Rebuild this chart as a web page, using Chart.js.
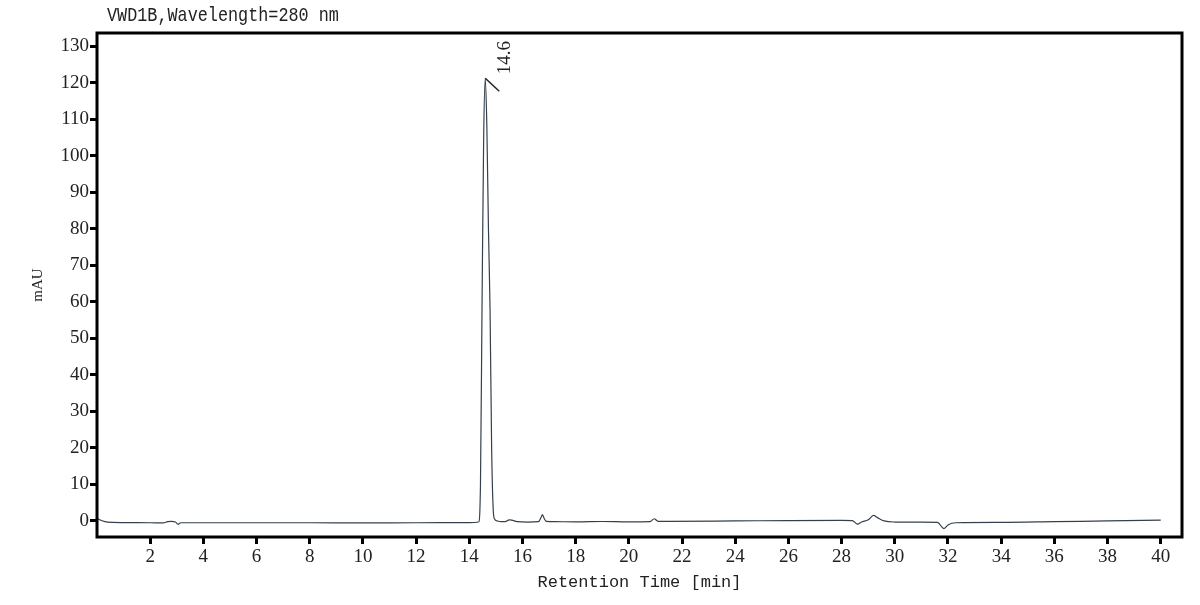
<!DOCTYPE html>
<html>
<head>
<meta charset="utf-8">
<script src="https://cdn.jsdelivr.net/npm/chart.js@4"></script>
<style>
  html, body { margin: 0; padding: 0; background: #ffffff; }
  #wrap { width: 1200px; height: 605px; position: relative; }
</style>
</head>
<body>
<div id="wrap"><canvas id="c" width="1200" height="605"></canvas></div>
<script>
// ---- data ----
const retentionTimes = [
  0.0, 0.1, 0.3, 0.6, 1.0, 2.0, 2.5, 2.65, 2.8, 2.95, 3.05, 3.15, 3.5, 5.0, 8.0, 10.0, 12.0,
  14.0, 14.35, 14.42, 14.48, 14.54, 14.6, 14.66, 14.72, 14.78, 14.84, 14.9, 14.95, 15.05, 15.2,
  15.35, 15.5, 15.6, 15.8, 16.2, 16.6, 16.7, 16.75, 16.82, 16.9, 17.2, 18.0, 19.0, 20.0,
  20.8, 20.95, 21.1, 21.5, 24.0, 26.0, 28.0, 28.4, 28.6, 28.75, 29.0, 29.2, 29.35, 29.6,
  30.0, 31.0, 31.6, 31.85, 32.0, 32.3, 34.0, 36.0, 38.0, 40.0
];
const absorbance = [
  0.8, 0.3, -0.2, -0.4, -0.45, -0.5, -0.55, -0.2, -0.1, -0.3, -0.9, -0.5, -0.5, -0.5, -0.5, -0.55, -0.5,
  -0.45, -0.3, 10.0, 60.0, 105.0, 121.2, 108.0, 80.0, 58.0, 20.0, 3.0, 0.5, 0.0, -0.2,
  -0.2, 0.3, 0.2, -0.2, -0.3, -0.2, 1.0, 1.7, 0.6, -0.1, -0.2, -0.25, -0.15, -0.25,
  -0.2, 0.6, -0.1, -0.1, 0.0, 0.1, 0.15, 0.1, -0.9, -0.3, 0.3, 1.5, 0.9, 0.0,
  -0.3, -0.35, -0.4, -2.1, -1.1, -0.5, -0.4, -0.2, 0.0, 0.2
];
const xTickValues = [2, 4, 6, 8, 10, 12, 14, 16, 18, 20, 22, 24, 26, 28, 30, 32, 34, 36, 38, 40];
const yTickValues = [0, 10, 20, 30, 40, 50, 60, 70, 80, 90, 100, 110, 120, 130];
const peakTimes = [14.6];
const peakHeights = [121.2];
const peakLabels = ["14.6"];
const chartTitle = "VWD1B,Wavelength=280 nm";
const xTitle = "Retention Time [min]";
const yTitle = "mAU";

const points = retentionTimes.map((t, i) => ({ x: t, y: absorbance[i] }));

const framePlugin = {
  id: 'frameAndLabels',
  afterDraw(chart) {
    const ctx = chart.ctx;
    const a = chart.chartArea;
    const xs = chart.scales.x, ys = chart.scales.y;
    ctx.save();
    // frame
    ctx.strokeStyle = '#000000';
    ctx.lineWidth = 3;
    ctx.strokeRect(a.left, a.top, a.right - a.left, a.bottom - a.top);
    // title (condensed monospace)
    ctx.save();
    ctx.translate(107, 21);
    ctx.scale(0.8, 1);
    ctx.fillStyle = '#222222';
    ctx.font = '21px "Liberation Mono", monospace';
    ctx.textBaseline = 'alphabetic';
    ctx.textAlign = 'left';
    ctx.fillText(chartTitle, 0, 0);
    ctx.restore();
    // peak labels
    peakTimes.forEach((t, i) => {
      const px = xs.getPixelForValue(t);
      const py = ys.getPixelForValue(peakHeights[i]);
      ctx.strokeStyle = '#222222';
      ctx.lineWidth = 1.5;
      ctx.beginPath();
      ctx.moveTo(px, py);
      ctx.lineTo(px + 14, py + 13);
      ctx.stroke();
      ctx.save();
      ctx.translate(px + 20, py - 4);
      ctx.rotate(-Math.PI / 2);
      ctx.font = '19px "Liberation Serif", serif';
      ctx.textAlign = 'left';
      ctx.textBaseline = 'middle';
      ctx.fillStyle = '#222222';
      ctx.fillText(peakLabels[i], 0, 0);
      ctx.restore();
    });
    ctx.restore();
  }
};

new Chart(document.getElementById('c'), {
  type: 'line',
  data: {
    datasets: [{
      data: points,
      borderColor: '#34404c',
      borderWidth: 1.2,
      pointRadius: 0,
      fill: false,
      cubicInterpolationMode: 'monotone'
    }]
  },
  options: {
    responsive: false,
    animation: false,
    devicePixelRatio: 1,
    layout: { padding: { top: 33, right: 18, left: 0, bottom: 0 } },
    plugins: {
      legend: { display: false },
      tooltip: { enabled: false },
      title: { display: false }
    },
    scales: {
      x: {
        type: 'linear',
        min: 0,
        max: 40.8,
        afterBuildTicks: (s) => { s.ticks = xTickValues.map(v => ({ value: v })); },
        afterFit: (s) => { s.height = 68; },
        grid: { display: true, drawOnChartArea: false, drawTicks: true, tickLength: 7, tickWidth: 3, tickColor: '#000000', color: '#000000' },
        border: { display: false },
        ticks: {
          autoSkip: false,
          maxRotation: 0,
          padding: 2,
          color: '#222222',
          font: { family: '"Liberation Serif", serif', size: 19 },
          callback: (v) => String(v)
        },
        title: {
          display: true,
          text: xTitle,
          color: '#222222',
          font: { family: '"Liberation Mono", monospace', size: 17 },
          padding: { top: 0, bottom: 12 }
        }
      },
      y: {
        type: 'linear',
        min: -4.4,
        max: 133.6,
        afterBuildTicks: (s) => { s.ticks = yTickValues.map(v => ({ value: v })); },
        afterFit: (s) => { s.width = 97; },
        grid: { display: true, drawOnChartArea: false, drawTicks: true, tickLength: 7, tickWidth: 3, tickColor: '#000000', color: '#000000' },
        border: { display: false },
        ticks: {
          padding: 1,
          color: '#222222',
          font: { family: '"Liberation Serif", serif', size: 19 },
          callback: (v) => String(v)
        },
        title: {
          display: true,
          text: yTitle,
          color: '#222222',
          font: { family: '"Liberation Serif", serif', size: 15 },
          padding: { top: 29, bottom: 0 }
        }
      }
    }
  },
  plugins: [framePlugin]
});
</script>
</body>
</html>
